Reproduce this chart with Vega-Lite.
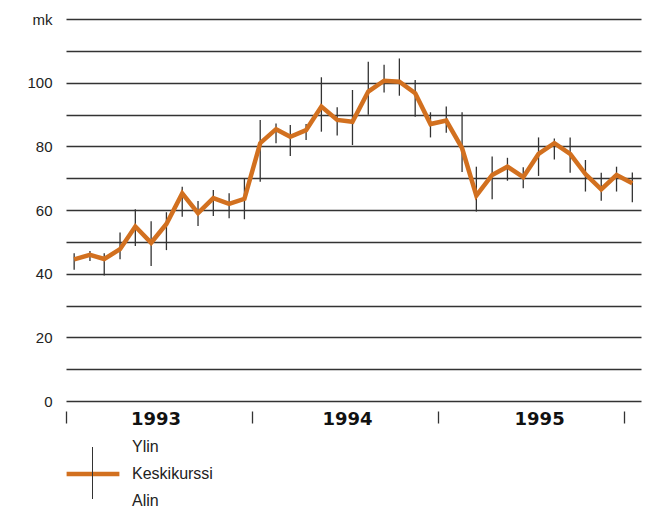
{
  "$schema": "https://vega.github.io/schema/vega-lite/v6.json",
  "autosize": {"type": "none"},
  "width": 575,
  "height": 382,
  "padding": {"left": 66, "top": 19, "right": 9, "bottom": 105},
  "background": "white",
  "config": {"view": {"stroke": null}},
  "data": {
    "values": [
      {"date": "1993-01-17", "avg": 44.5, "hi": 46.4, "lo": 41.2},
      {"date": "1993-02-17", "avg": 45.9, "hi": 47.1, "lo": 44.0},
      {"date": "1993-03-17", "avg": 44.6, "hi": 46.4, "lo": 39.4},
      {"date": "1993-04-17", "avg": 47.7, "hi": 52.9, "lo": 44.5},
      {"date": "1993-05-17", "avg": 54.8, "hi": 60.2, "lo": 48.7},
      {"date": "1993-06-17", "avg": 49.7, "hi": 56.5, "lo": 42.4},
      {"date": "1993-07-17", "avg": 55.6, "hi": 59.3, "lo": 47.4},
      {"date": "1993-08-17", "avg": 65.2, "hi": 67.3, "lo": 57.9},
      {"date": "1993-09-17", "avg": 59.0, "hi": 62.8, "lo": 55.0},
      {"date": "1993-10-17", "avg": 63.7, "hi": 66.3, "lo": 58.1},
      {"date": "1993-11-17", "avg": 61.9, "hi": 65.3, "lo": 57.4},
      {"date": "1993-12-17", "avg": 63.5, "hi": 70.0, "lo": 57.1},
      {"date": "1994-01-17", "avg": 81.0, "hi": 88.3, "lo": 68.9},
      {"date": "1994-02-17", "avg": 85.4, "hi": 87.2, "lo": 81.0},
      {"date": "1994-03-17", "avg": 83.0, "hi": 86.7, "lo": 77.0},
      {"date": "1994-04-17", "avg": 85.1, "hi": 87.0, "lo": 82.0},
      {"date": "1994-05-17", "avg": 92.5, "hi": 101.7, "lo": 84.6},
      {"date": "1994-06-17", "avg": 88.3, "hi": 92.3, "lo": 83.4},
      {"date": "1994-07-17", "avg": 87.7, "hi": 97.7, "lo": 80.4},
      {"date": "1994-08-17", "avg": 97.2, "hi": 106.6, "lo": 89.9},
      {"date": "1994-09-17", "avg": 100.6, "hi": 105.6, "lo": 96.9},
      {"date": "1994-10-17", "avg": 100.3, "hi": 107.6, "lo": 95.9},
      {"date": "1994-11-17", "avg": 96.7, "hi": 100.8, "lo": 89.3},
      {"date": "1994-12-17", "avg": 87.0, "hi": 90.7, "lo": 82.8},
      {"date": "1995-01-17", "avg": 88.1, "hi": 92.5, "lo": 84.3},
      {"date": "1995-02-17", "avg": 79.4, "hi": 90.7, "lo": 71.9},
      {"date": "1995-03-17", "avg": 64.5, "hi": 73.6, "lo": 59.5},
      {"date": "1995-04-17", "avg": 71.0, "hi": 76.8, "lo": 63.4},
      {"date": "1995-05-17", "avg": 73.6, "hi": 76.4, "lo": 69.2},
      {"date": "1995-06-17", "avg": 70.3, "hi": 73.4, "lo": 66.8},
      {"date": "1995-07-17", "avg": 77.6, "hi": 82.8, "lo": 70.7},
      {"date": "1995-08-17", "avg": 81.0, "hi": 82.5, "lo": 75.9},
      {"date": "1995-09-17", "avg": 77.6, "hi": 82.8, "lo": 71.7},
      {"date": "1995-10-17", "avg": 71.3, "hi": 75.7, "lo": 65.8},
      {"date": "1995-11-17", "avg": 66.5, "hi": 71.7, "lo": 62.9},
      {"date": "1995-12-17", "avg": 71.0, "hi": 73.6, "lo": 65.8},
      {"date": "1996-01-17", "avg": 68.4, "hi": 71.8, "lo": 62.4}
    ]
  },
  "encoding": {
    "x": {
      "field": "date",
      "type": "temporal",
      "scale": {
        "type": "utc",
        "domain": [
          {"year": 1993, "month": 1, "date": 1, "utc": true},
          {"year": 1996, "month": 2, "date": 3, "utc": true}
        ]
      },
      "axis": {
        "title": null,
        "values": [
          {"year": 1993, "month": 1, "date": 1, "utc": true},
          {"year": 1994, "month": 1, "date": 1, "utc": true},
          {"year": 1995, "month": 1, "date": 1, "utc": true},
          {"year": 1996, "month": 1, "date": 1, "utc": true}
        ],
        "labelExpr": "utcFormat(datum.value, '%Y') == '1996' ? '' : utcFormat(datum.value, '%Y')",
        "domain": false,
        "grid": false,
        "ticks": true,
        "tickSize": 12,
        "tickColor": "#333333",
        "tickWidth": 1.3,
        "offset": 10,
        "labelOffset": {
          "condition": [
            {"test": "utcyear(datum.value) == 1993", "value": 89.5},
            {"test": "utcyear(datum.value) == 1994", "value": 95}
          ],
          "value": 101
        },
        "labelAlign": "center",
        "labelBaseline": "middle",
        "labelPadding": -4,
        "labelFont": "DejaVu Sans",
        "labelFontWeight": "bold",
        "labelFontSize": 18,
        "labelColor": "#111111",
        "labelOverlap": false,
        "labelFlush": false,
        "labelBound": false
      }
    }
  },
  "layer": [
    {
      "mark": {"type": "rule", "strokeWidth": 1.3},
      "encoding": {
        "y": {
          "field": "lo",
          "type": "quantitative",
          "scale": {"domain": [0, 120], "nice": false},
          "axis": {
            "title": null,
            "values": [0, 10, 20, 30, 40, 50, 60, 70, 80, 90, 100, 110, 120],
            "labelExpr": "datum.value == 120 ? 'mk' : (datum.value % 20 == 0 ? datum.label : '')",
            "ticks": false,
            "domain": false,
            "grid": true,
            "gridColor": "#333333",
            "gridWidth": 1.3,
            "gridOpacity": 1,
            "labelPadding": 14,
            "labelFont": "Liberation Sans",
            "labelFontSize": 15,
            "labelColor": "#222222"
          }
        },
        "y2": {"field": "hi"},
        "color": {
          "datum": "Ylin",
          "scale": {
            "domain": ["Ylin", "Keskikurssi", "Alin"],
            "range": ["#333333", "#d2701f", "#333333"]
          },
          "legend": {
            "orient": "none",
            "legendX": 19,
            "legendY": 420,
            "direction": "vertical",
            "title": null,
            "padding": 0,
            "symbolSize": 256,
            "rowPadding": 10,
            "labelOffset": 31,
            "labelFont": "Liberation Sans",
            "labelFontSize": 16,
            "labelColor": "#222222",
            "labelLimit": 0,
            "encode": {
              "symbols": {
                "update": {
                  "shape": {"signal": "datum.value == 'Keskikurssi' ? 'M-3.4,0M3.4,0M-3.3,0H3.3' : 'M-3.4,0M3.4,0'"},
                  "strokeWidth": {"signal": "datum.value == 'Keskikurssi' ? 4.5 : 0"},
                  "strokeOpacity": {"signal": "datum.value == 'Keskikurssi' ? 1 : 0"},
                  "fill": {"value": "transparent"},
                  "opacity": {"value": 1}
                }
              }
            }
          }
        },
        "strokeWidth": {
          "datum": "vaihteluväli",
          "scale": {"domain": ["vaihteluväli"], "range": [1.3]},
          "legend": {
            "orient": "none",
            "legendX": 26.5,
            "legendY": 454,
            "direction": "vertical",
            "title": null,
            "padding": 0,
            "symbolSize": 256,
            "symbolType": "M0,-3.25V3.25",
            "symbolStrokeColor": "#333333",
            "symbolStrokeWidth": 1.3,
            "symbolFillColor": "transparent",
            "labelExpr": "''"
          }
        }
      }
    },
    {
      "mark": {"type": "line", "strokeWidth": 4.5, "strokeJoin": "miter"},
      "encoding": {
        "y": {
          "field": "avg",
          "type": "quantitative",
          "axis": {
            "title": null,
            "values": [0, 10, 20, 30, 40, 50, 60, 70, 80, 90, 100, 110, 120],
            "labelExpr": "datum.value == 120 ? 'mk' : (datum.value % 20 == 0 ? datum.label : '')",
            "ticks": false,
            "domain": false,
            "grid": true,
            "gridColor": "#333333",
            "gridWidth": 1.3,
            "gridOpacity": 1,
            "labelPadding": 14,
            "labelFont": "Liberation Sans",
            "labelFontSize": 15,
            "labelColor": "#222222"
          }
        },
        "color": {"datum": "Keskikurssi"}
      }
    }
  ]
}
